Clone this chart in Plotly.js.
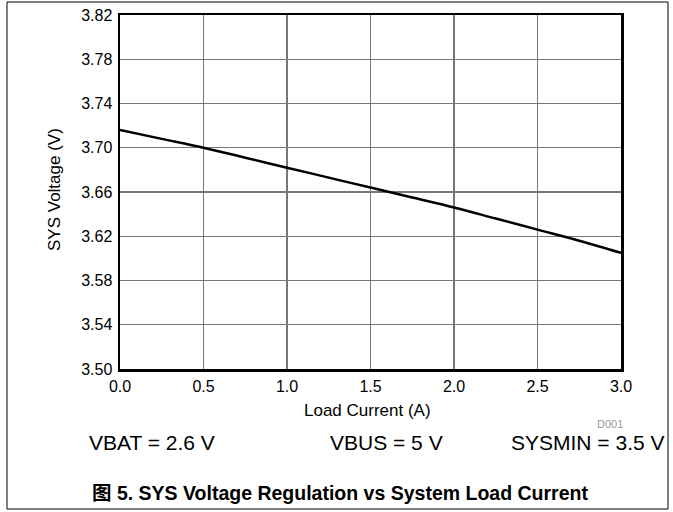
<!DOCTYPE html>
<html><head><meta charset="utf-8">
<script src="https://cdn.plot.ly/plotly-3.0.1.min.js"></script>
<style>html,body{margin:0;padding:0;background:#fff}</style>
</head><body>
<div id="chart" style="width:673px;height:512px"></div>
<script>
const loadCurrent = [0.0, 0.25, 0.5, 0.75, 1.0, 1.25, 1.5, 1.75, 2.0, 2.25, 2.5, 2.75, 3.0];
const sysVoltage  = [3.716, 3.708, 3.700, 3.691, 3.682, 3.673, 3.664, 3.655, 3.646, 3.636, 3.626, 3.616, 3.605];
const xTicks = [0, 0.5, 1.0, 1.5, 2.0, 2.5, 3.0];
const xTickLabels = ["0.0","0.5","1.0","1.5","2.0","2.5","3.0"];
const yTicks = [3.50,3.54,3.58,3.62,3.66,3.70,3.74,3.78,3.82];
const yTickLabels = ["3.50","3.54","3.58","3.62","3.66","3.70","3.74","3.78","3.82"];
const conditions = ["VBAT = 2.6 V","VBUS = 5 V","SYSMIN = 3.5 V"];
const caption = "图 5. SYS Voltage Regulation vs System Load Current";

const F = "Liberation Sans, Arial, sans-serif";
const L=120, R=621, T=15, B=369;
const px = x => (x-L)/(R-L);
const py = y => (B-y)/(B-T);

const trace = {x: loadCurrent, y: sysVoltage, mode:'lines', type:'scatter',
  line:{color:'#000', width:2.5, shape:'spline'}, hoverinfo:'skip'};

function ann(text, x, y, size, extra){
  return Object.assign({text:text, xref:'paper', yref:'paper', x:px(x), y:py(y), xanchor:'center', yanchor:'middle',
    showarrow:false, font:{family:F, size:size, color:'#000'}}, extra||{});
}

const layout = {
  width:673, height:512,
  margin:{l:L, r:673-R, t:T, b:512-B, pad:0},
  paper_bgcolor:'#fff', plot_bgcolor:'#fff',
  showlegend:false,
  font:{family:F, color:'#000', size:16},
  xaxis:{range:[0,3], tickvals:xTicks, ticktext:xTickLabels, showgrid:true, gridcolor:'#787878', gridwidth:1.2,
    showline:true, mirror:true, linecolor:'#000', linewidth:2.5, ticks:'outside', ticklen:1, tickcolor:'rgba(0,0,0,0)', zeroline:false,
    tickfont:{family:F, size:16, color:'#000'}, fixedrange:true},
  yaxis:{range:[3.50,3.82], tickvals:yTicks, ticktext:yTickLabels, showgrid:true, gridcolor:'#787878', gridwidth:1.2,
    showline:true, mirror:true, linecolor:'#000', linewidth:2.5, ticks:'outside', ticklen:2, tickcolor:'rgba(0,0,0,0)', zeroline:false,
    tickfont:{family:F, size:16, color:'#000'}, fixedrange:true},
  shapes:[{type:'rect', xref:'paper', yref:'paper', x0:px(7), x1:px(668), y0:py(509), y1:py(2),
    line:{color:'#000', width:1}, fillcolor:'rgba(0,0,0,0)'}],
  annotations:[
    ann('Load Current (A)', 367, 410, 17),
    ann('SYS Voltage (V)', 54, 190, 17, {textangle:-90}),
    ann('D001', 610, 424, 11, {font:{family:F, size:11, color:'#999'}}),
    ann(conditions[0], 152, 442, 21),
    ann(conditions[1], 386, 442, 21),
    ann(conditions[2], 587, 442, 21),
    ann('<b>'+caption+'</b>', 340, 493, 19.5, {font:{family:F+', Noto Sans CJK SC', size:19.5, color:'#000'}})
  ]
};
Plotly.newPlot('chart',[trace],layout,{displayModeBar:false, staticPlot:true});
</script>
</body></html>
